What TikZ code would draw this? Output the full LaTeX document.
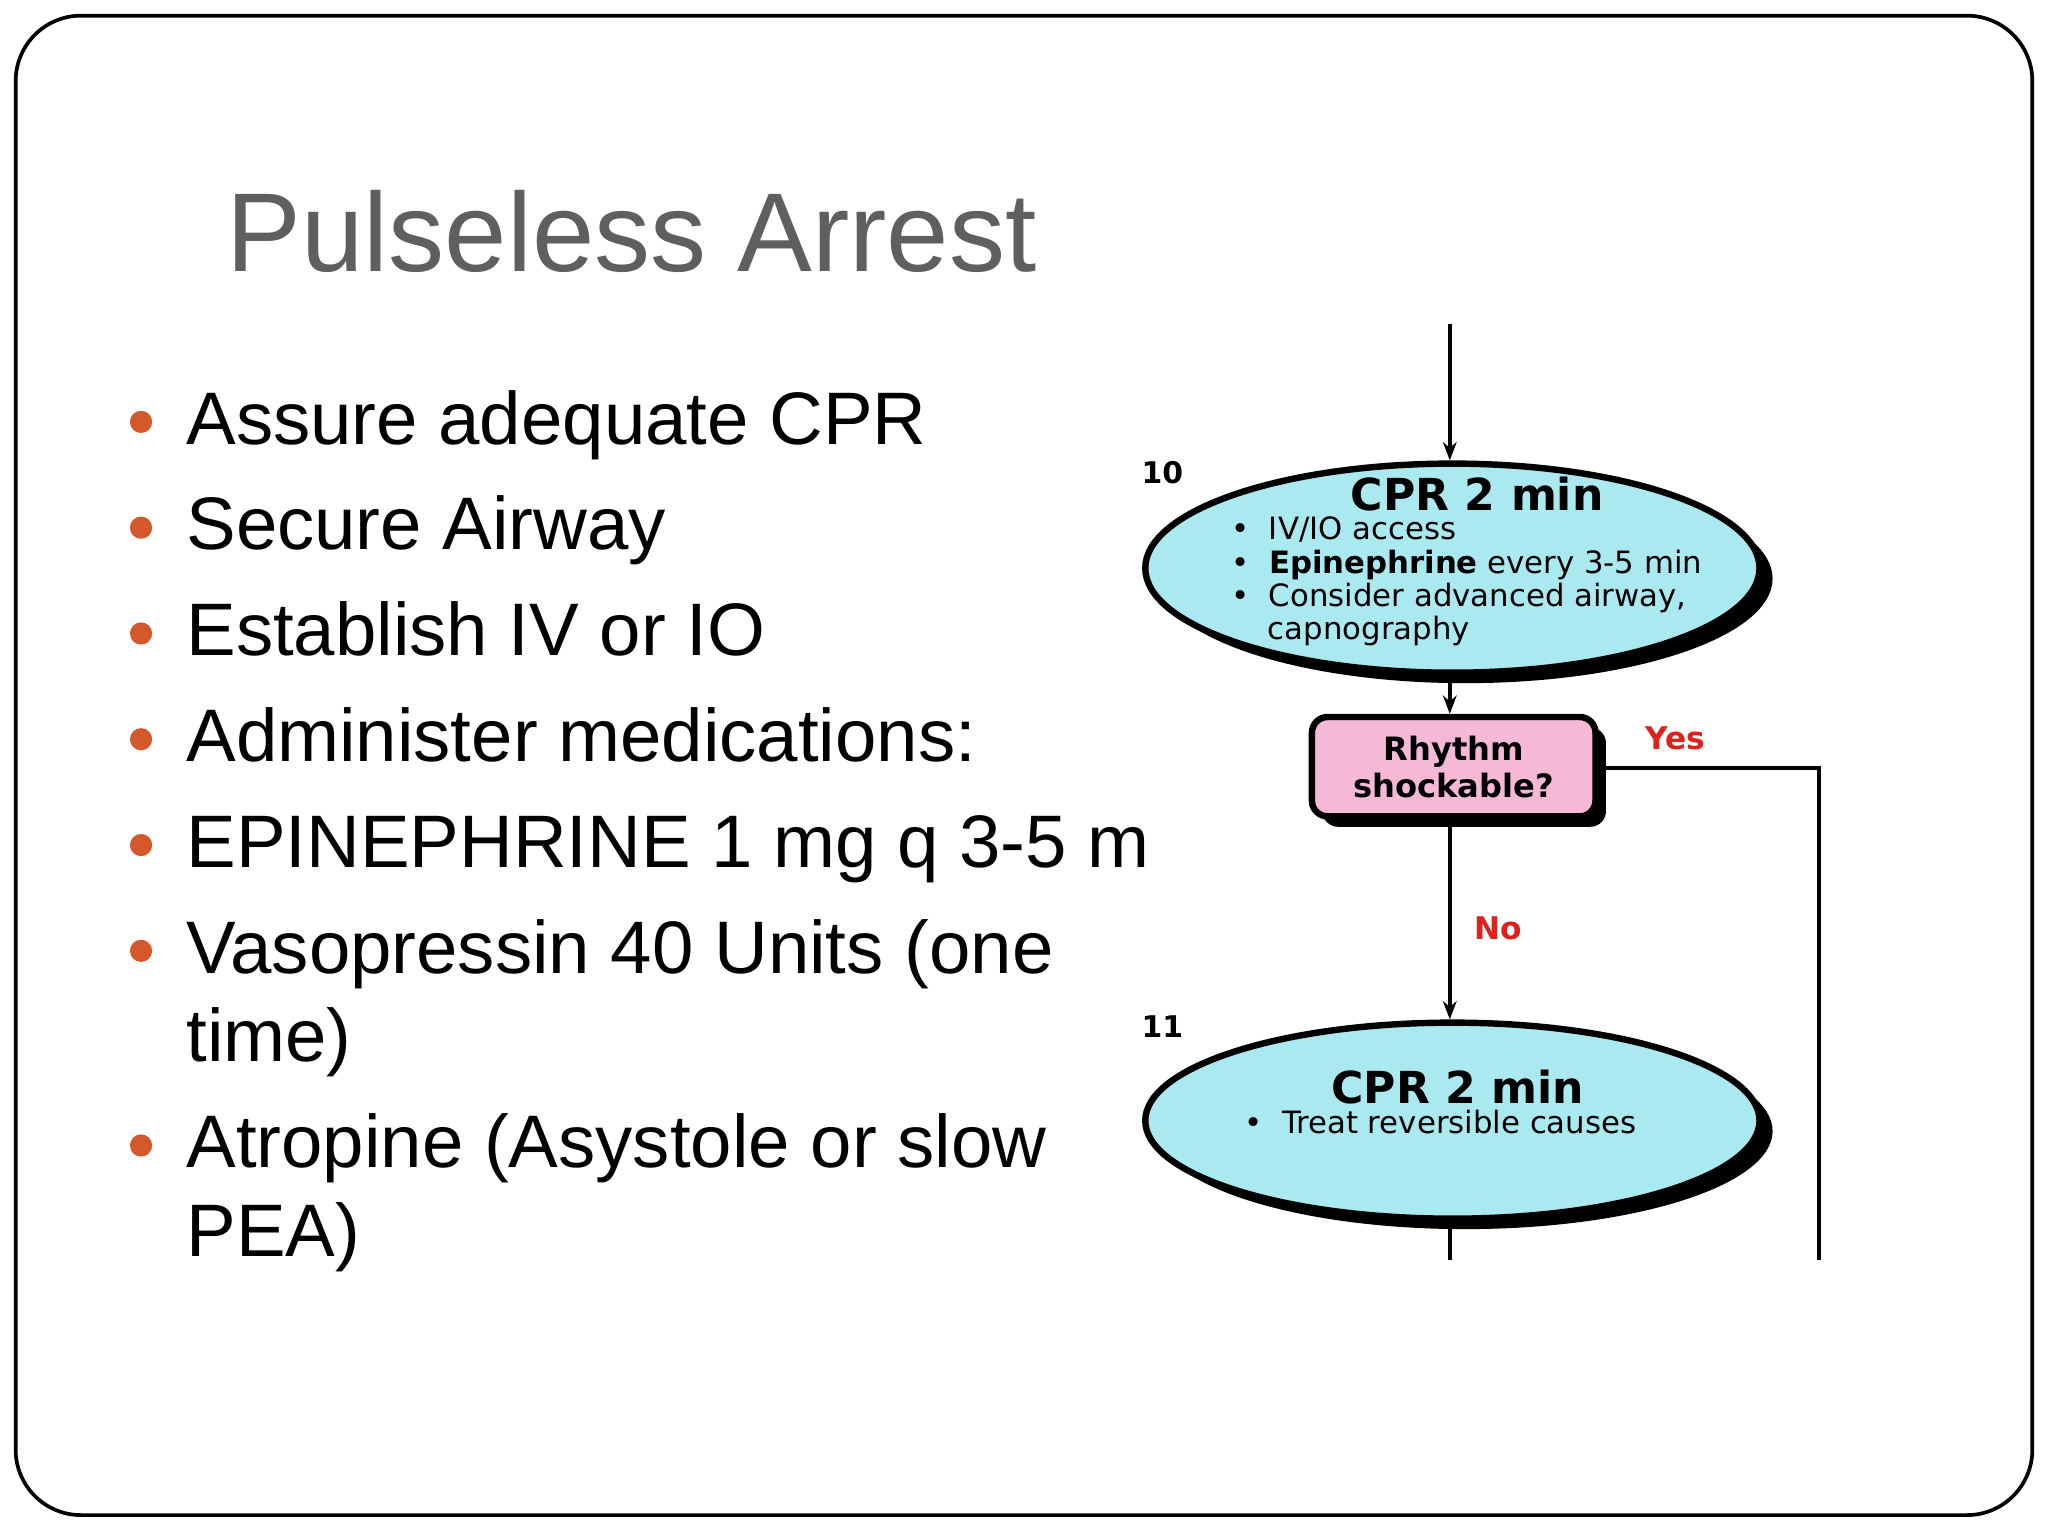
\documentclass[tikz,border=0pt]{standalone}
\usepackage{fontspec}
\setmainfont{Liberation Sans}
\newfontfamily\flowfont{DejaVu Sans}
\usetikzlibrary{shapes.geometric,arrows.meta,shadows}
\definecolor{titlegray}{HTML}{5F5F5F}
\definecolor{bulletorange}{HTML}{D4582A}
\definecolor{ellcyan}{HTML}{ABE9F1}
\definecolor{boxpink}{HTML}{F5B8D6}
\definecolor{yesred}{HTML}{E0201B}
\tikzset{
  bul/.style={anchor=base west,font=\fontsize{16.2}{19}\selectfont,inner sep=0},
  dot/.style={circle,fill=bulletorange,minimum size=0.17cm,inner sep=0},
  ell/.style={ellipse,draw=black,line width=1.4pt,fill=ellcyan,drop shadow={shadow xshift=0.1cm,shadow yshift=-0.08cm,opacity=1,fill=black}},
  flow/.style={-{Stealth[length=0.14cm]},line width=0.9pt},
  fl/.style={anchor=base west,inner sep=0,font=\flowfont\fontsize{6.7}{7}\selectfont},
  num/.style={font=\flowfont\bfseries\fontsize{6.5}{7}\selectfont,inner sep=0}
}
\begin{document}
\begin{tikzpicture}[x=0.01cm,y=-0.01cm]
\useasboundingbox (0,0) rectangle (1568,1176);
\fill[white] (0,0) rectangle (1568,1176);
\draw[line width=0.8pt,rounded corners=0.5cm] (12,12) rectangle (1556,1160);
\node[anchor=base west,inner sep=0,text=titlegray,font=\fontsize{24.4}{28}\selectfont] (title) at (173,208) {Pulseless Arrest};
\foreach \y/\t [count=\i] in {340/Assure adequate CPR,421/Secure Airway,502/Establish IV or IO,583/Administer medications:,664/EPINEPHRINE 1 mg q 3-5 m,745/Vasopressin 40 Units (one,894/Atropine (Asystole or slow}{
  \node[dot] (d\i) at (108,\y-17) {};
  \node[bul] (b\i) at (142,\y) {\t};
}
\node[bul] (b6b) at (142,813) {time)};
\node[bul] (b7b) at (142,962) {PEA)};
% flowchart
\coordinate (top) at (1110,248);
\node[ell,minimum width=4.7cm,minimum height=1.6cm] (e1) at (1112,435) {};
\node[num] (n10) at (890,362) {10};
\node[font=\flowfont\bfseries\fontsize{9.6}{10}\selectfont,inner sep=0] (t1) at (1131,378) {CPR 2 min};
\node[fl] (i1) at (942,413) {\textbullet\ \ IV/IO access};
\node[fl] (i2) at (942,439) {\textbullet\ \ \textbf{Epinephrine} every 3-5 min};
\node[fl] (i3) at (942,464) {\textbullet\ \ Consider advanced airway,};
\node[fl] (i4) at (970,490) {capnography};
\node[draw=black,line width=1.4pt,fill=boxpink,rounded corners=0.12cm,minimum width=2.17cm,minimum height=0.76cm,align=center,font=\flowfont\bfseries\fontsize{7}{8}\selectfont,drop shadow={shadow xshift=0.08cm,shadow yshift=-0.08cm,opacity=1,fill=black}] (rh) at (1113,587) {Rhythm\\shockable?};
\node[ell,minimum width=4.7cm,minimum height=1.5cm] (e2) at (1112,858) {};
\node[num] (n11) at (890,786) {11};
\node[font=\flowfont\bfseries\fontsize{9.6}{10}\selectfont,inner sep=0] (t2) at (1116,832) {CPR 2 min};
\node[fl] (j1) at (952,868) {\textbullet\ \ Treat reversible causes};
\node[text=yesred,font=\flowfont\bfseries\fontsize{6.8}{7}\selectfont,inner sep=0] (yes) at (1283,565) {Yes};
\node[text=yesred,font=\flowfont\bfseries\fontsize{6.8}{7}\selectfont,inner sep=0] (no) at (1147,711) {No};
\coordinate (yc) at (1393,588);
\coordinate (ye) at (1393,965);
\coordinate (be) at (1110,965);
\draw[flow] (top) -- (e1.north -| top);
\draw[flow] (e1.south -| top) -- (rh.north -| top);
\draw[flow] (rh.south -| top) -- (e2.north -| top);
\draw[line width=0.9pt] (e2.south -| top) -- (be);
\draw[line width=0.9pt] (rh.east |- yc) -- (yc) -- (ye);
\end{tikzpicture}
\end{document}
